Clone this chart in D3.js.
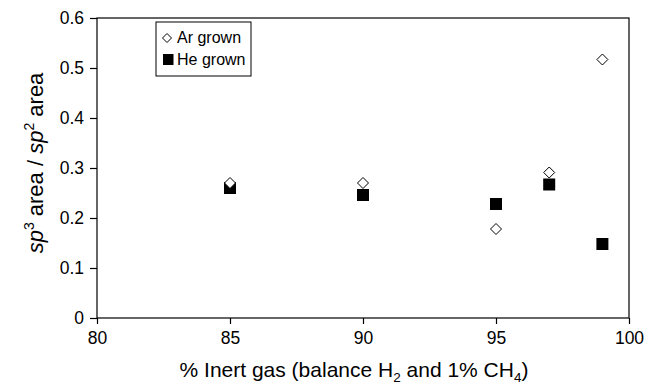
<!DOCTYPE html>
<html>
<head>
<meta charset="utf-8">
<script src="https://cdn.jsdelivr.net/npm/d3@7"></script>
<style>
  body { margin: 0; background: #fff; }
  svg { font-family: "Liberation Sans", Arial, sans-serif; }
</style>
</head>
<body>
<div id="chart"></div>
<script>
// inert gas percentage for each sample
var gasPct = [85, 90, 95, 97, 99];
// sp3 / sp2 area ratio
var arGrown = [0.27, 0.27, 0.178, 0.291, 0.517];
var heGrown = [0.26, 0.246, 0.228, 0.267, 0.148];

var xTicks = [80, 85, 90, 95, 100];
var yTicks = [0, 0.1, 0.2, 0.3, 0.4, 0.5, 0.6];

var width = 650, height = 387;
var margin = {top: 18, right: 21, bottom: 69, left: 97};
var w = width - margin.left - margin.right,
    h = height - margin.top - margin.bottom;

var svg = d3.select("#chart").append("svg")
    .attr("width", width)
    .attr("height", height);

var g = svg.append("g")
    .attr("transform", "translate(" + margin.left + "," + margin.top + ")");

var x = d3.scaleLinear().domain([80, 100]).range([0, w]);
var y = d3.scaleLinear().domain([0, 0.6]).range([h, 0]);

// frame
g.append("rect")
    .attr("x", 0).attr("y", 0)
    .attr("width", w).attr("height", h)
    .style("fill", "none")
    .style("stroke", "#000")
    .style("stroke-width", 1.2);

var xAxis = d3.axisBottom(x).tickValues(xTicks).tickSize(6).tickPadding(8)
    .tickFormat(d3.format("d"));
var yAxis = d3.axisLeft(y).tickValues(yTicks).tickSize(7).tickPadding(6)
    .tickFormat(function(d) { return d === 0 ? "0" : d3.format(".1f")(d); });

var gx = g.append("g")
    .attr("transform", "translate(0," + h + ")")
    .call(xAxis);
var gy = g.append("g").call(yAxis);

[gx, gy].forEach(function(a) {
  a.select(".domain").remove();
  a.selectAll("line").style("stroke", "#000").style("stroke-width", 1.2);
  a.selectAll("text")
      .style("font-size", "17.5px")
      .style("fill", "#000")
      .style("font-family", "'Liberation Sans', Arial, sans-serif");
});

var ar = gasPct.map(function(d, i) { return {x: d, y: arGrown[i]}; });
var he = gasPct.map(function(d, i) { return {x: d, y: heGrown[i]}; });

var diamond = function(s) {
  return "M0," + (-s) + "L" + s + ",0L0," + s + "L" + (-s) + ",0Z";
};

g.selectAll(".he")
    .data(he)
  .enter().append("rect")
    .attr("class", "he")
    .attr("x", function(d) { return x(d.x) - 6; })
    .attr("y", function(d) { return y(d.y) - 6; })
    .attr("width", 12)
    .attr("height", 12)
    .style("fill", "#000");

g.selectAll(".ar")
    .data(ar)
  .enter().append("path")
    .attr("class", "ar")
    .attr("d", diamond(5.5))
    .attr("transform", function(d) { return "translate(" + x(d.x) + "," + y(d.y) + ")"; })
    .style("fill", "#fff")
    .style("stroke", "#000")
    .style("stroke-width", 1);

// legend
var leg = svg.append("g");
leg.append("rect")
    .attr("x", 156).attr("y", 22)
    .attr("width", 95).attr("height", 54)
    .style("fill", "#fff")
    .style("stroke", "#000")
    .style("stroke-width", 1);
leg.append("path")
    .attr("d", diamond(4.5))
    .attr("transform", "translate(167,38)")
    .style("fill", "#fff")
    .style("stroke", "#000");
leg.append("text")
    .attr("x", 177).attr("y", 43)
    .style("font-size", "16px")
    .text("Ar grown");
leg.append("rect")
    .attr("x", 163).attr("y", 54)
    .attr("width", 10.5).attr("height", 11)
    .style("fill", "#000");
leg.append("text")
    .attr("x", 177).attr("y", 65)
    .style("font-size", "16px")
    .text("He grown");

// x axis title
var xt = svg.append("text")
    .attr("x", 354)
    .attr("y", 377)
    .attr("text-anchor", "middle")
    .style("font-size", "21px");
xt.append("tspan").text("% Inert gas (balance H");
xt.append("tspan").attr("dy", 5).style("font-size", "13.5px").text("2");
xt.append("tspan").attr("dy", -5).text(" and 1% CH");
xt.append("tspan").attr("dy", 5).style("font-size", "13.5px").text("4");
xt.append("tspan").attr("dy", -5).text(")");

// y axis title
var yt = svg.append("text")
    .attr("transform", "translate(43,163) rotate(-90)")
    .attr("text-anchor", "middle")
    .style("font-size", "22px");
yt.append("tspan").style("font-style", "italic").text("sp");
yt.append("tspan").attr("dy", -9).style("font-size", "14px").text("3");
yt.append("tspan").attr("dy", 9).text(" area / ");
yt.append("tspan").style("font-style", "italic").text("sp");
yt.append("tspan").attr("dy", -9).style("font-size", "14px").text("2");
yt.append("tspan").attr("dy", 9).text(" area");
</script>
</body>
</html>
